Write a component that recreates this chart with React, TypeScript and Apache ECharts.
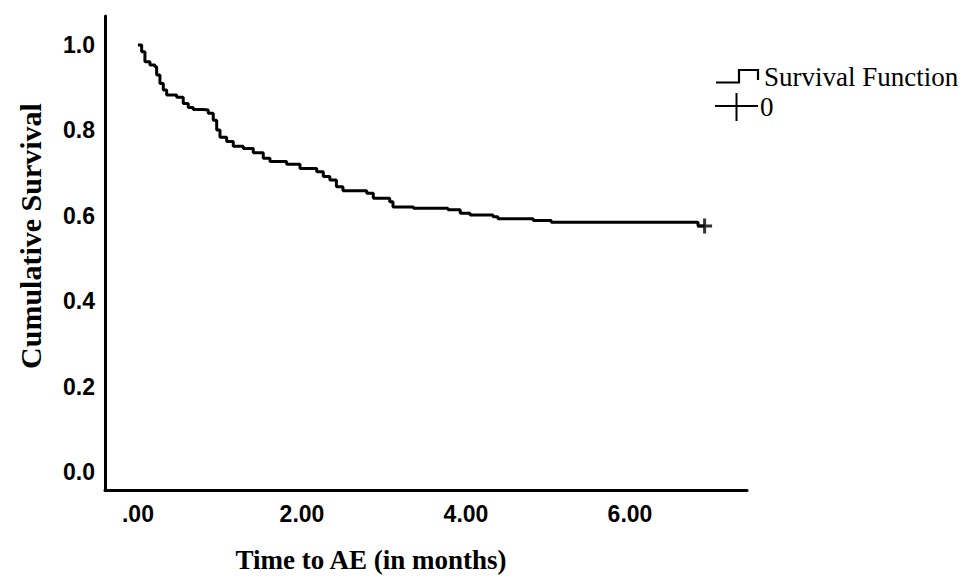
import React, { useEffect, useRef } from "react";
import * as echarts from "echarts";

// Kaplan-Meier step points (time in months, cumulative survival)
const times = [0, 0.045, 0.085, 0.146, 0.207, 0.228, 0.268, 0.309, 0.35, 0.472, 0.552, 0.613, 0.674, 0.796, 0.857, 0.918, 0.96, 1.0, 1.082, 1.162, 1.284, 1.406, 1.528, 1.61, 1.813, 1.976, 2.18, 2.26, 2.34, 2.42, 2.5, 2.79, 2.87, 3.07, 3.11, 3.36, 3.78, 3.93, 4.05, 4.33, 4.39, 4.82, 5.04, 6.83, 6.91];
const survival = [1.0, 0.984, 0.961, 0.953, 0.949, 0.93, 0.91, 0.895, 0.883, 0.878, 0.863, 0.854, 0.849, 0.848, 0.84, 0.824, 0.801, 0.784, 0.774, 0.763, 0.758, 0.748, 0.735, 0.727, 0.721, 0.711, 0.703, 0.692, 0.684, 0.668, 0.659, 0.653, 0.641, 0.633, 0.621, 0.618, 0.614, 0.606, 0.602, 0.598, 0.593, 0.589, 0.585, 0.576, 0.576];
const censorTimes = [6.91];
const censorSurvival = [0.576];

const xTicks = [0, 2, 4, 6];
const yTicks = [0, 0.2, 0.4, 0.6, 0.8, 1.0];

const xTitle = "Time to AE (in months)";
const yTitle = "Cumulative Survival";
const seriesName = "Survival Function";
const censorName = "0";

export default function App() {
  const ref = useRef<HTMLDivElement>(null);
  useEffect(() => {
    if (!ref.current) return;
    const chart = echarts.init(ref.current, null, { renderer: "svg" });
    const serif = "'Liberation Serif', 'Times New Roman', serif";
    const sans = "'Liberation Sans', Arial, sans-serif";
    chart.setOption({
      animation: false,
      backgroundColor: "#fff",
      grid: { left: 105, right: 222, top: 16, bottom: 92, containLabel: false },
      xAxis: {
        type: "value",
        min: -0.402,
        max: 7.427,
        axisLine: { show: true, onZero: false, lineStyle: { color: "#000", width: 3 } },
        axisTick: { show: false },
        splitLine: { show: false },
        axisLabel: {
          customValues: xTicks,
          formatter: (v: number) => (v === 0 ? ".00" : v.toFixed(2)),
          color: "#000",
          fontFamily: sans,
          fontWeight: "bold",
          fontSize: 23,
          margin: 12,
        },
      },
      yAxis: {
        type: "value",
        min: -0.042,
        max: 1.068,
        axisLine: { show: true, onZero: false, lineStyle: { color: "#000", width: 3 } },
        axisTick: { show: false },
        splitLine: { show: false },
        axisLabel: {
          customValues: yTicks,
          formatter: (v: number) => v.toFixed(1),
          color: "#000",
          fontFamily: sans,
          fontWeight: "bold",
          fontSize: 23,
          margin: 10,
        },
      },
      series: [
        {
          name: seriesName,
          type: "line",
          step: "end",
          showSymbol: false,
          symbol: "none",
          lineStyle: { color: "#000", width: 3 },
          data: times.map((t, i) => [t, survival[i]]),
        },
        {
          name: censorName,
          type: "scatter",
          symbol: "path://M0,7 L14,7 M7,0 L7,14",
          symbolSize: 15,
          itemStyle: { color: "none", borderColor: "#000", borderWidth: 3 },
          data: censorTimes.map((t, i) => [t, censorSurvival[i]]),
        },
      ],
      graphic: [
        {
          type: "text",
          x: 371,
          y: 560,
          style: {
            text: xTitle,
            fill: "#000",
            font: `bold 27px ${serif}`,
            textAlign: "center",
            textVerticalAlign: "middle",
          },
        },
        {
          type: "text",
          x: 30,
          y: 236,
          rotation: Math.PI / 2,
          style: {
            text: yTitle,
            fill: "#000",
            font: `bold 30px ${serif}`,
            textAlign: "center",
            textVerticalAlign: "middle",
          },
        },
        {
          type: "polyline",
          shape: { points: [[716, 82.5], [739, 82.5], [739, 70], [758, 70], [758, 80]] },
          style: { stroke: "#000", lineWidth: 2.2, fill: "none" },
        },
        {
          type: "text",
          x: 764,
          y: 77,
          style: {
            text: seriesName,
            fill: "#000",
            font: `27px ${serif}`,
            textAlign: "left",
            textVerticalAlign: "middle",
          },
        },
        {
          type: "line",
          shape: { x1: 715, y1: 106, x2: 758, y2: 106 },
          style: { stroke: "#000", lineWidth: 2 },
        },
        {
          type: "line",
          shape: { x1: 736.5, y1: 93, x2: 736.5, y2: 121 },
          style: { stroke: "#000", lineWidth: 2 },
        },
        {
          type: "text",
          x: 760,
          y: 107,
          style: {
            text: censorName,
            fill: "#000",
            font: `27px ${serif}`,
            textAlign: "left",
            textVerticalAlign: "middle",
          },
        },
      ],
    });
    return () => chart.dispose();
  }, []);
  return (
    <div
      ref={ref}
      style={{ position: "fixed", left: 0, top: 0, width: 969, height: 582, background: "#fff" }}
    />
  );
}
